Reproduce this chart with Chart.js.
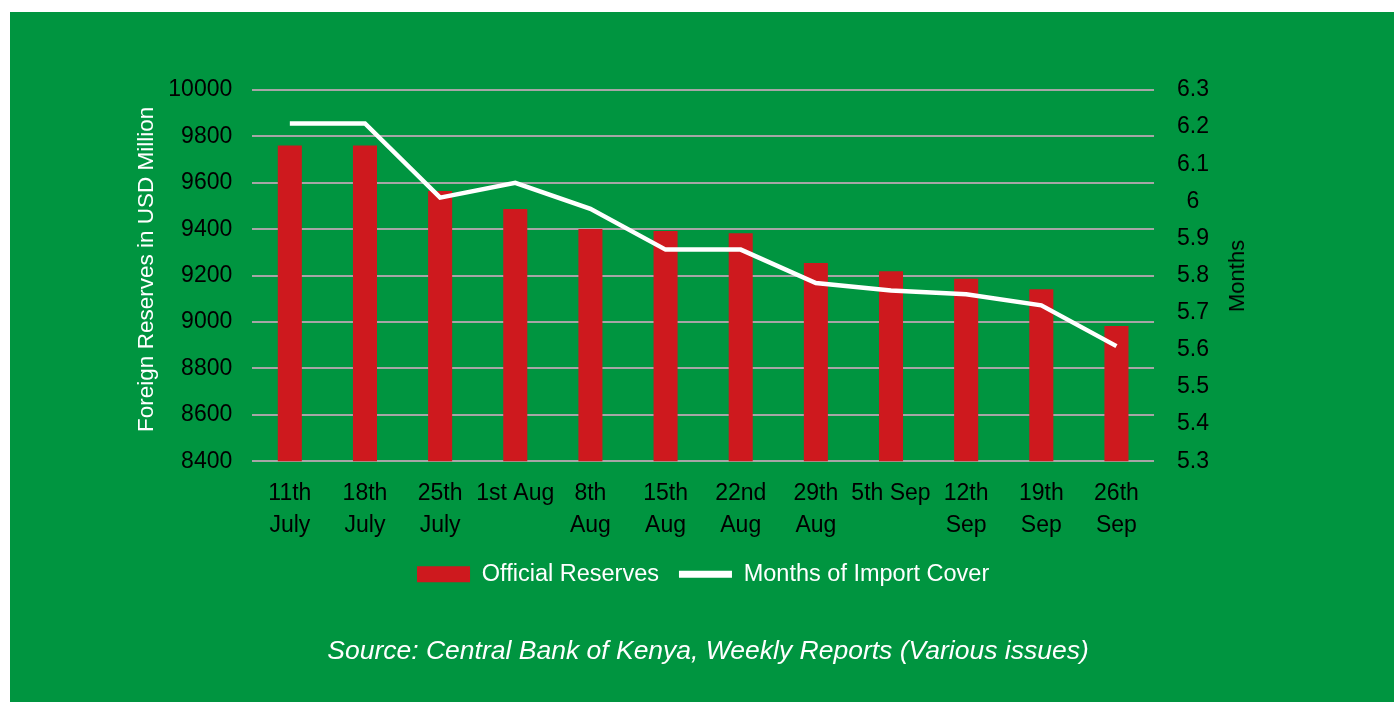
<!DOCTYPE html>
<html>
<head>
<meta charset="utf-8">
<script src="https://cdn.jsdelivr.net/npm/chart.js@4.4.0/dist/chart.umd.min.js"></script>
<style>
  html, body { margin: 0; padding: 0; background: #fff; }
  #panel { position: absolute; left: 10px; top: 12px; width: 1384px; height: 690px; background: #009540; }
  #chart { position: absolute; left: 0; top: 0; }
  #months { position: absolute; left: 1237px; top: 276px; transform: translate(-50%, -50%) rotate(-90deg);
            font: 22px "Liberation Sans", Arial, sans-serif; color: #000; white-space: nowrap; }
  #source { position: absolute; left: 0; width: 1416px; top: 635px; line-height: 30px; text-align: center;
            font-family: "Liberation Sans", Arial, sans-serif; font-style: italic; font-size: 26.5px; color: #fff; }
</style>
</head>
<body>
<div id="panel"></div>
<canvas id="chart" width="1394" height="702"></canvas>
<div id="months">Months</div>
<div id="source">Source: Central Bank of Kenya, Weekly Reports (Various issues)</div>
<script>
// weeks (x axis labels, two lines each)
var weeks = [
    ['11th', 'July'], ['18th', 'July'], ['25th', 'July'], '1st Aug',
    ['8th', 'Aug'], ['15th', 'Aug'], ['22nd', 'Aug'], ['29th', 'Aug'],
    '5th Sep', ['12th', 'Sep'], ['19th', 'Sep'], ['26th', 'Sep']
];

// Official reserves, USD million (left axis)
var reserves = [9761, 9761, 9565, 9487, 9401, 9392, 9383, 9254, 9219, 9186, 9141, 8983];

// Months of import cover (right axis)
var importCover = [6.21, 6.21, 6.01, 6.05, 5.98, 5.87, 5.87, 5.78, 5.76, 5.75, 5.72, 5.61];

var leftMin = 8400, leftMax = 10000, leftStep = 200;
var rightMin = 5.3, rightMax = 6.3, rightStep = 0.1;

Chart.defaults.font.family = '"Liberation Sans", Arial, sans-serif';

var ctx = document.getElementById('chart').getContext('2d');
var chart = new Chart(ctx, {
    type: 'bar',
    data: {
        labels: weeks,
        datasets: [
            {
                type: 'line',
                label: 'Months of Import Cover',
                data: importCover,
                yAxisID: 'y1',
                borderColor: '#ffffff',
                backgroundColor: '#ffffff',
                borderWidth: 4.5,
                pointRadius: 0,
                tension: 0,
                order: 0
            },
            {
                label: 'Official Reserves',
                data: reserves,
                yAxisID: 'y',
                backgroundColor: '#ce191e',
                barPercentage: 0.32,
                categoryPercentage: 1,
                order: 1
            }
        ]
    },
    options: {
        responsive: false,
        animation: false,
        devicePixelRatio: 1,
        layout: { padding: { left: 132.8, right: 185, top: 90, bottom: 106 } },
        plugins: {
            tooltip: { enabled: false },
            legend: {
                position: 'bottom',
                fullSize: false,
                reverse: true,
                labels: {
                    color: '#ffffff',
                    font: { size: 23.5 },
                    usePointStyle: true,
                    pointStyleWidth: 53,
                    boxHeight: 16,
                    padding: 20,
                    generateLabels: function (c) {
                        return c.data.datasets.map(function (ds, i) {
                            var isLine = ds.type === 'line';
                            return {
                                text: ds.label,
                                datasetIndex: i,
                                fillStyle: isLine ? '#ffffff' : ds.backgroundColor,
                                strokeStyle: isLine ? '#ffffff' : ds.backgroundColor,
                                lineWidth: isLine ? 7 : 0,
                                pointStyle: isLine ? 'line' : 'rect',
                                fontColor: '#ffffff'
                            };
                        });
                    }
                }
            }
        },
        scales: {
            x: {
                grid: { display: false, drawTicks: true, tickLength: 15.5 },
                border: { display: false },
                ticks: {
                    color: '#000000',
                    font: { size: 23, lineHeight: 1.43 },
                    padding: 0,
                    maxRotation: 0,
                    minRotation: 0,
                    autoSkip: false
                }
            },
            y: {
                position: 'left',
                min: leftMin,
                max: leftMax,
                grid: { color: '#a6a6a6', lineWidth: 2, drawTicks: true, tickLength: 20, tickColor: 'rgba(0,0,0,0)' },
                border: { display: false },
                ticks: {
                    stepSize: leftStep,
                    color: '#000000',
                    font: { size: 23 },
                    padding: 0,
                    callback: function (v) { return String(v); }
                },
                title: {
                    display: true,
                    text: '  Foreign Reserves in USD Million',
                    color: '#ffffff',
                    font: { size: 22.5, lineHeight: 1.2 },
                    padding: { top: 0, bottom: 8.5 }
                }
            },
            y1: {
                position: 'right',
                min: rightMin,
                max: rightMax,
                grid: { display: true, drawOnChartArea: false, color: 'rgba(0,0,0,0)', drawTicks: true, tickLength: 23, tickColor: 'rgba(0,0,0,0)' },
                border: { display: false },
                ticks: {
                    stepSize: rightStep,
                    color: '#000000',
                    font: { size: 23 },
                    padding: 0,
                    crossAlign: 'center',
                    callback: function (v) { return String(Math.round(v * 10) / 10); }
                }
            }
        }
    }
});
</script>
</body>
</html>
